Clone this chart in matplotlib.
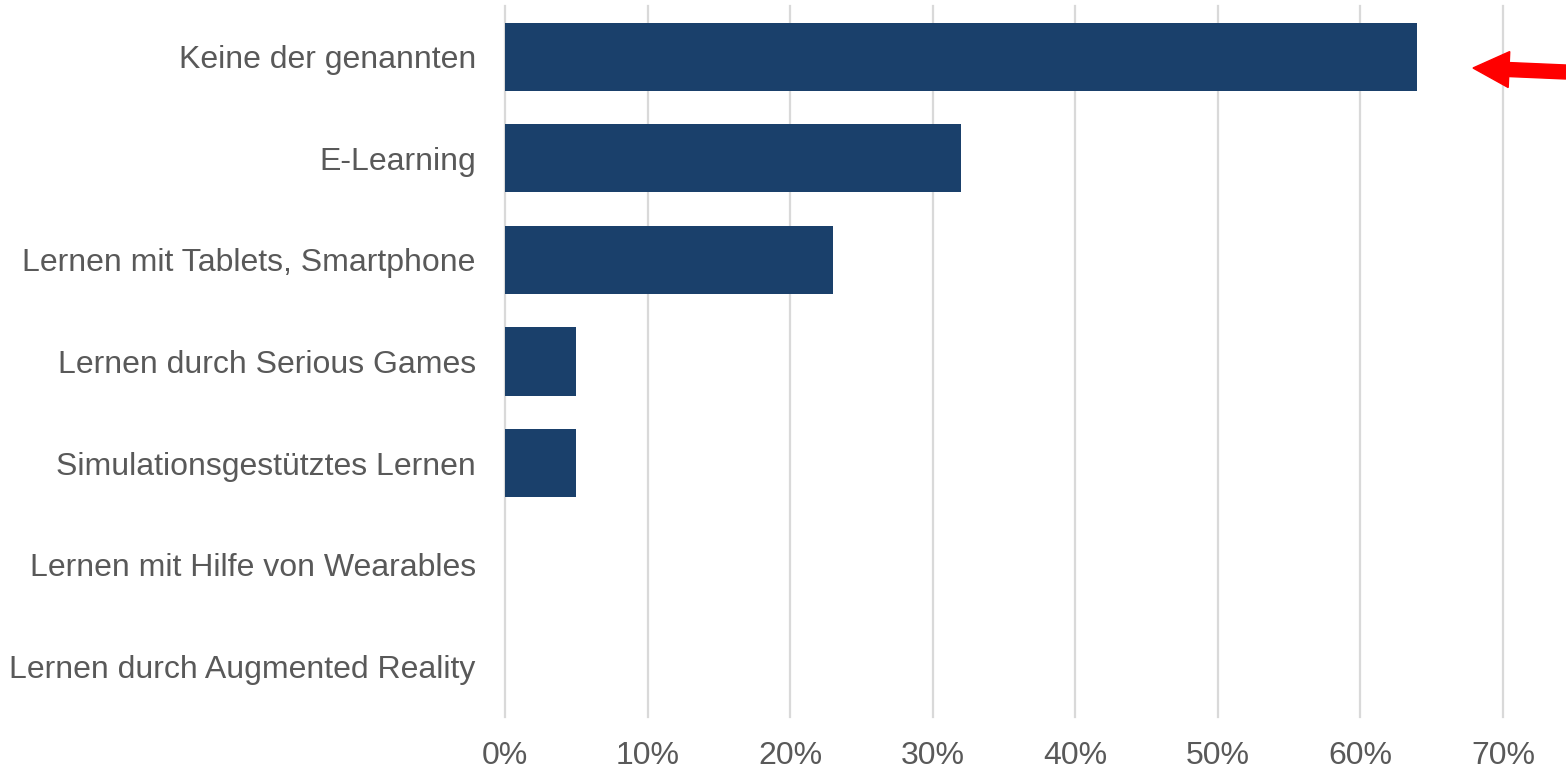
import matplotlib
matplotlib.use("Agg")
import matplotlib.pyplot as plt
from matplotlib.patches import FancyArrow
from matplotlib.transforms import IdentityTransform
from matplotlib.ticker import FuncFormatter

categories = [
    "Keine der genannten",
    "E-Learning",
    "Lernen mit Tablets, Smartphone",
    "Lernen durch Serious Games",
    "Simulationsgestütztes Lernen",
    "Lernen mit Hilfe von Wearables",
    "Lernen durch Augmented Reality",
]
values = [64, 32, 23, 5, 5, 0, 0]
xticks = [0, 10, 20, 30, 40, 50, 60, 70]

plt.rcParams['font.family'] = ['Liberation Sans', 'DejaVu Sans']

fig = plt.figure(figsize=(15.66, 7.70), dpi=100)
ax = fig.add_axes([505/1566, 53/770, (1503-505)/1566, (764-53)/770])

y = list(range(len(categories)))
ax.barh(y, values, height=0.67, color='#1a406b', zorder=3)
ax.set_ylim(len(categories) - 0.5, -0.5)
ax.set_xlim(0, 70)
ax.set_yticks(y)
ax.set_yticklabels(categories)
ax.set_xticks(xticks)
ax.xaxis.set_major_formatter(FuncFormatter(lambda v, p: f"{int(v)}%"))
ax.tick_params(axis='both', length=0, labelsize=23, labelcolor='#595959')
ax.tick_params(axis='y', pad=21)
ax.tick_params(axis='x', pad=17)
ax.grid(axis='x', color='#d9d9d9', linewidth=1.6, zorder=0)
for gl in ax.get_xgridlines():
    gl.set_clip_on(False)
ax.set_axisbelow(True)
for s in ax.spines.values():
    s.set_visible(False)

# red arrow pointing left (pixel coordinates)
tail = (1566, 770 - 72)
tip = (1473, 770 - 68)
arr = FancyArrow(tail[0], tail[1], tip[0] - tail[0], tip[1] - tail[1],
                 width=14, head_width=36, head_length=36,
                 length_includes_head=True, color='#ff0000',
                 transform=IdentityTransform())
fig.add_artist(arr)

fig.savefig("out.png", dpi=100)
